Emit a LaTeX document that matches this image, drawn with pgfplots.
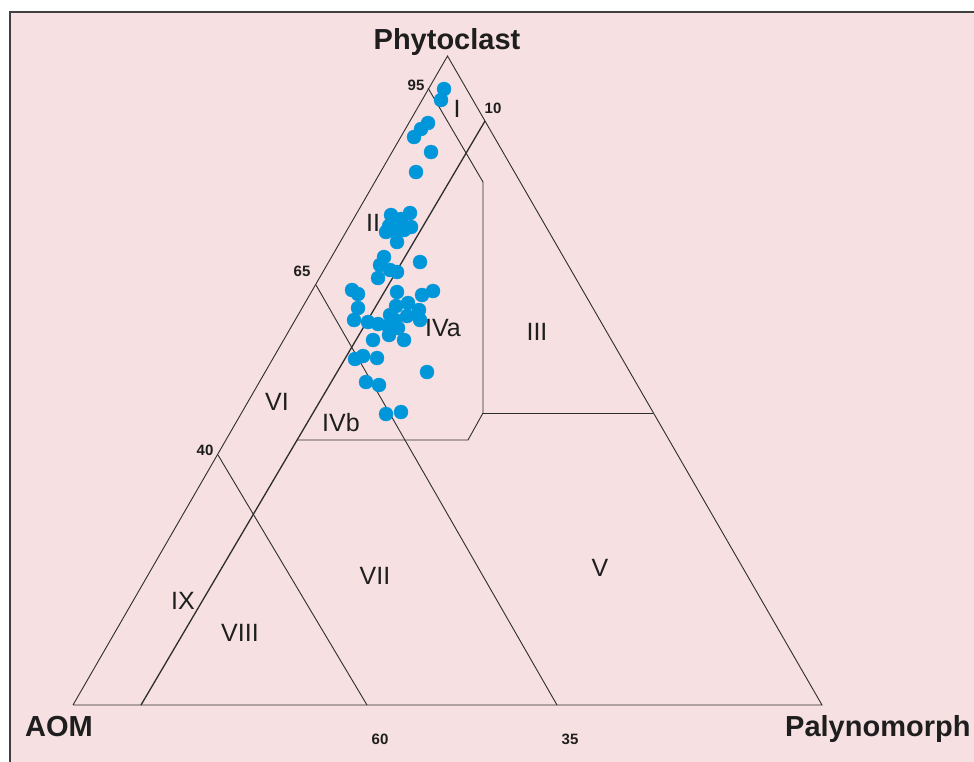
\documentclass[border=0pt]{standalone}
\usepackage{pgfplots}
\pgfplotsset{compat=1.18}
\usepackage{fontspec}
\setmainfont{Liberation Sans}
\definecolor{bgpink}{RGB}{246,224,225}
\definecolor{ptblue}{RGB}{0,150,218}
\definecolor{lin}{RGB}{45,45,45}
\definecolor{txt}{RGB}{30,30,30}
\pgfplotstableread{
x y
444 89
441 100
428 123
421 129
414 137
431 152
416 172
391 215
401 219
410 213
389 226
386 232
396 232
397 242
404 230
411 227
394 222
384 257
380 265
390 270
397 272
378 278
420 262
352 290
358 294
397 292
422 295
433 291
358 308
354 320
368 322
378 324
396 306
390 315
408 303
419 310
420 320
407 316
388 326
398 328
389 335
404 340
373 340
395 320
355 359
363 356
377 358
427 372
366 382
379 385
386 414
401 412
}\samples
\usepackage{pgfplotstable}
\begin{document}
\begin{tikzpicture}
\begin{axis}[scale only axis, width=974pt, height=761pt,
  xmin=0, xmax=974, ymin=0, ymax=761, y dir=reverse,
  hide axis, anchor=south west, at={(0,0)}]
\fill[white] (axis cs:-5,-5) rectangle (axis cs:980,770);
\draw[line width=2pt, draw=black!75, fill=bgpink] (axis cs:10,12) rectangle (axis cs:1000,800);
% triangle
\addplot[lin, line width=0.9pt] coordinates {(73,705) (822,705) (447.5,56) (73,705)};
% field boundaries
\addplot[lin, line width=0.9pt] coordinates {(428,88) (483,182) (483,413) (468,440) (297,440)};
\addplot[lin, line width=0.9pt] coordinates {(483,413) (653,413)};
\addplot[lin, line width=1.3pt] coordinates {(485,121) (141,705)};
\addplot[lin, line width=0.9pt] coordinates {(316,285) (557,705)};
\addplot[lin, line width=0.9pt] coordinates {(218,455) (367,705)};
% samples
\addplot[only marks, mark=*, mark size=7pt, color=ptblue, mark options={draw=none, fill=ptblue}] table {\samples};
% vertex labels
\node[font=\fontsize{29}{34}\selectfont\bfseries, text=txt, anchor=base] at (axis cs:447,49) {Phytoclast};
\node[font=\fontsize{29}{34}\selectfont\bfseries, text=txt, anchor=base west, inner sep=0pt] at (axis cs:25,736) {AOM};
\node[font=\fontsize{29}{34}\selectfont\bfseries, text=txt, anchor=base west, inner sep=0pt] at (axis cs:785,736) {Palynomorph};
% tick numbers
\node[font=\fontsize{15}{18}\selectfont\bfseries, text=txt] at (axis cs:416,85) {95};
\node[font=\fontsize{15}{18}\selectfont\bfseries, text=txt] at (axis cs:493,108) {10};
\node[font=\fontsize{15}{18}\selectfont\bfseries, text=txt] at (axis cs:302,271) {65};
\node[font=\fontsize{15}{18}\selectfont\bfseries, text=txt] at (axis cs:205,450) {40};
\node[font=\fontsize{15}{18}\selectfont\bfseries, text=txt] at (axis cs:380,739) {60};
\node[font=\fontsize{15}{18}\selectfont\bfseries, text=txt] at (axis cs:570,739) {35};
% region labels
\node[font=\fontsize{25}{29}\selectfont, text=txt] at (axis cs:457,109) {I};
\node[font=\fontsize{25}{29}\selectfont, text=txt] at (axis cs:373,223) {II};
\node[font=\fontsize{25}{29}\selectfont, text=txt] at (axis cs:537,332) {III};
\node[font=\fontsize{25}{29}\selectfont, text=txt] at (axis cs:443,328) {IVa};
\node[font=\fontsize{25}{29}\selectfont, text=txt] at (axis cs:341,423) {IVb};
\node[font=\fontsize{25}{29}\selectfont, text=txt] at (axis cs:600,568) {V};
\node[font=\fontsize{25}{29}\selectfont, text=txt] at (axis cs:277,402) {VI};
\node[font=\fontsize{25}{29}\selectfont, text=txt] at (axis cs:375,576) {VII};
\node[font=\fontsize{25}{29}\selectfont, text=txt] at (axis cs:240,633) {VIII};
\node[font=\fontsize{25}{29}\selectfont, text=txt] at (axis cs:183,601) {IX};
\end{axis}
\pgfresetboundingbox
\path (0,0) rectangle (974pt,761pt);
\end{tikzpicture}
\end{document}
